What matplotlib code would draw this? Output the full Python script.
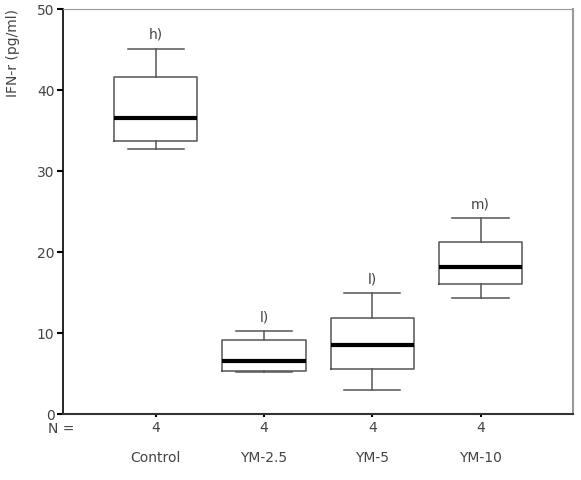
import matplotlib
matplotlib.use("Agg")
import matplotlib.pyplot as plt

groups = ["Control", "YM-2.5", "YM-5", "YM-10"]
counts = [4, 4, 4, 4]
letters = ["h)", "l)", "l)", "m)"]
# box stats
whislo = [32.7, 5.15, 3.0, 14.3]
q1 = [33.7, 5.3, 5.6, 16.0]
med = [36.5, 6.5, 8.5, 18.1]
q3 = [41.6, 9.1, 11.8, 21.2]
whishi = [45.1, 10.2, 14.9, 24.2]

txt = "#444444"
plt.rcParams["font.family"] = "DejaVu Sans"
plt.rcParams["font.size"] = 10

fig = plt.figure(figsize=(5.81, 4.8), dpi=100)
ax = fig.add_axes([0.108, 0.1375, 0.879, 0.8435])

stats = []
for i in range(len(groups)):
    stats.append(dict(label=groups[i], whislo=whislo[i], q1=q1[i], med=med[i],
                      q3=q3[i], whishi=whishi[i], fliers=[]))
pos = list(range(1, len(groups) + 1))
ax.bxp(stats, positions=pos, widths=0.77, capwidths=0.52, showfliers=False,
       boxprops=dict(color="#555555", linewidth=1.1),
       whiskerprops=dict(color="#555555", linewidth=1.1),
       capprops=dict(color="#555555", linewidth=1.1),
       medianprops=dict(color="black", linewidth=3))

for i, p in enumerate(pos):
    ax.annotate(letters[i], (p, whishi[i]), xytext=(0, 5), textcoords="offset points",
                ha="center", va="bottom", color=txt)

ax.set_xlim(0.142, 4.858)
ax.set_ylim(0, 50)
ax.set_yticks([0, 10, 20, 30, 40, 50])
ax.set_xticks(pos)
ax.set_xticklabels([str(c) for c in counts], color=txt)
ax.tick_params(axis="y", colors="black", labelcolor=txt, length=4, width=1.5, direction="out", pad=2)
ax.tick_params(axis="x", colors="black", labelcolor=txt, length=2, width=1.5, direction="out", pad=3)
for i, p in enumerate(pos):
    ax.text(p, -0.109, groups[i], transform=ax.get_xaxis_transform(),
            ha="center", va="center", color=txt)
ax.text(0.023, -0.037, "N =", transform=ax.transAxes,
        ha="right", va="center", color=txt)

ax.set_ylabel("IFN-r (pg/ml)", color=txt, loc="top", labelpad=12)
ax.spines["left"].set_color("black")
ax.spines["left"].set_linewidth(1.2)
ax.spines["bottom"].set_color("#333333")
ax.spines["bottom"].set_linewidth(1.5)
ax.spines["top"].set_color("#999999")
ax.spines["right"].set_color("#999999")
ax.spines["right"].set_linewidth(1.5)

fig.savefig("out.png", dpi=100)
